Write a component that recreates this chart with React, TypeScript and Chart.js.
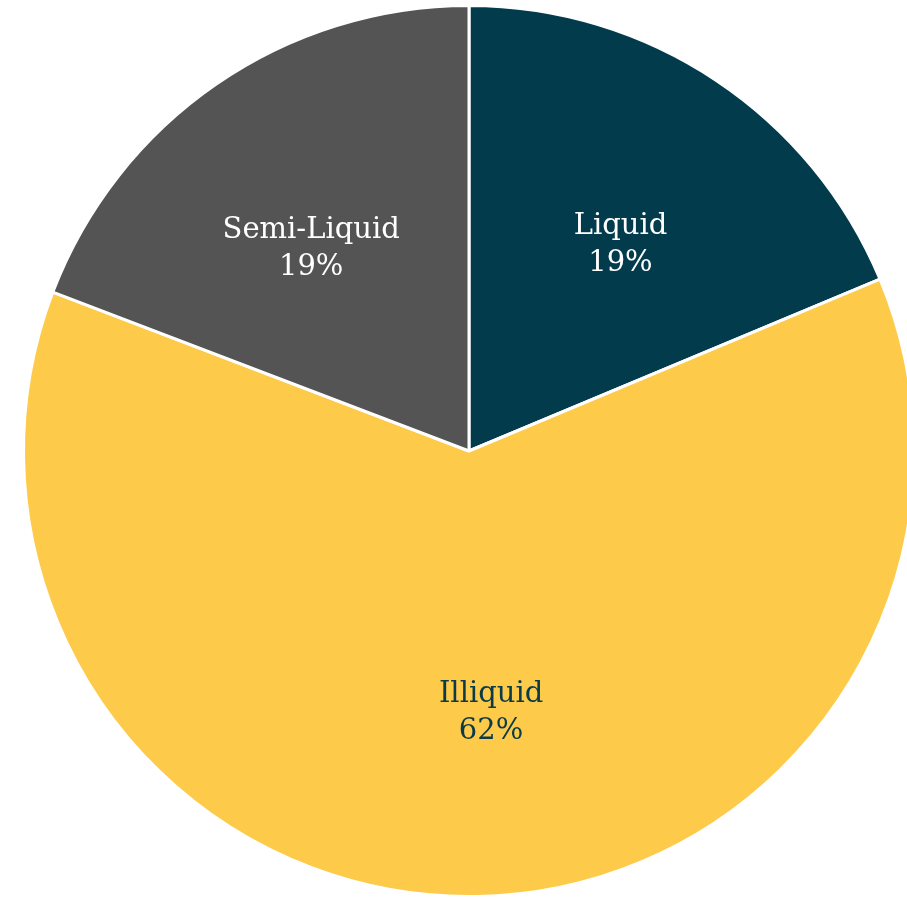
import React, { useEffect, useRef } from "react";
import { Chart, registerables } from "chart.js";

Chart.register(...registerables);

const categories = ["Liquid", "Illiquid", "Semi-Liquid"];
const values = [18.7, 62.1, 19.2];
const percentLabels = ["19%", "62%", "19%"];
const colors = ["#023b4b", "#fdca4a", "#545454"];
const labelColors = ["#ffffff", "#0b3a48", "#ffffff"];
const labelShiftX = [7, 18, -10];
const labelShiftY = [10, 1, 12];

const FONT = "29px 'DejaVu Serif', serif";

const sliceLabels = {
  id: "sliceLabels",
  afterDatasetsDraw(chart: any) {
    const ctx = chart.ctx;
    const meta = chart.getDatasetMeta(0);
    meta.data.forEach((arc: any, i: number) => {
      const { x, y, startAngle, endAngle, outerRadius } = arc.getProps(
        ["x", "y", "startAngle", "endAngle", "outerRadius"],
        true
      );
      const mid = (startAngle + endAngle) / 2;
      const r = outerRadius * 0.585;
      const cx = x + Math.cos(mid) * r + labelShiftX[i];
      const cy = y + Math.sin(mid) * r + labelShiftY[i];
      ctx.save();
      ctx.font = FONT;
      ctx.fillStyle = labelColors[i];
      ctx.textAlign = "center";
      ctx.textBaseline = "middle";
      ctx.fillText(categories[i], cx, cy - 18);
      ctx.fillText(percentLabels[i], cx, cy + 19);
      ctx.restore();
    });
  },
};

export default function App() {
  const ref = useRef<HTMLCanvasElement | null>(null);
  useEffect(() => {
    document.body.style.margin = "0";
    document.body.style.overflow = "hidden";
    const chart = new Chart(ref.current as HTMLCanvasElement, {
      type: "pie",
      data: {
        labels: categories,
        datasets: [
          {
            data: values,
            backgroundColor: colors,
            borderColor: "#ffffff",
            borderWidth: 3,
          },
        ],
      },
      options: {
        animation: false,
        responsive: false,
        maintainAspectRatio: false,
        layout: { padding: 4 },
        plugins: {
          legend: { display: false },
          tooltip: { enabled: false },
        },
      },
      plugins: [sliceLabels],
    });
    return () => chart.destroy();
  }, []);
  return (
    <div style={{ width: 907, height: 899, overflow: "hidden", position: "relative", background: "#fff" }}>
      <canvas ref={ref} width={938} height={902} style={{ position: "absolute", left: 0, top: 0, width: 938, height: 902 }} />
    </div>
  );
}
